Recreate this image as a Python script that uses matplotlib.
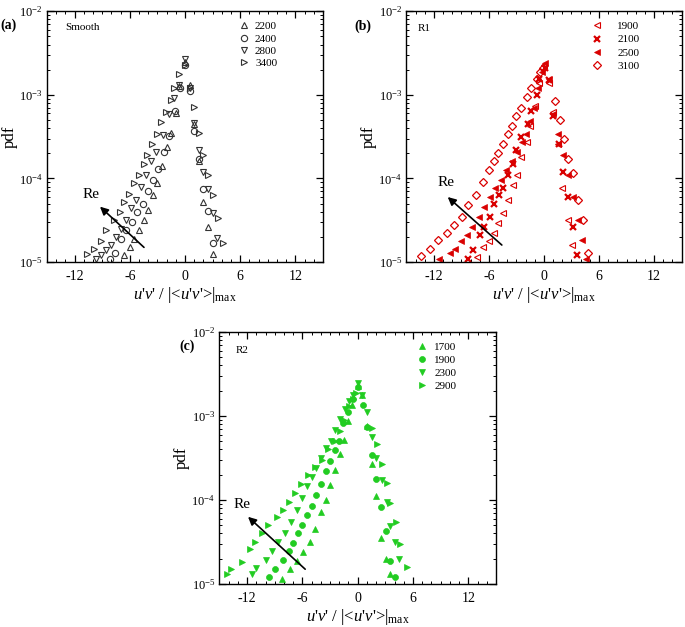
import matplotlib
matplotlib.use("Agg")
import matplotlib.pyplot as plt
from matplotlib.ticker import MultipleLocator, LogLocator, NullFormatter

plt.rcParams['font.family'] = ['Liberation Serif', 'DejaVu Serif']
plt.rcParams['mathtext.fontset'] = 'custom'
plt.rcParams['mathtext.rm'] = 'Liberation Serif'
plt.rcParams['mathtext.it'] = 'Liberation Serif:italic'
plt.rcParams['mathtext.bf'] = 'Liberation Serif:bold'
plt.rcParams['axes.unicode_minus'] = False

# ---------------- Panel (a): Smooth ----------------
a_2200_x = [-6.6, -6.0, -5.5, -5.0, -4.5, -4.0, -3.5, -3.0, -2.5, -2.0, -1.5, -1.0, -0.6, 0.0,
            0.5, 1.0, 1.5, 2.0, 2.5, 3.0]
a_2200_y = [1.2e-5, 1.5e-5, 1.9e-5, 2.4e-5, 3.2e-5, 4.2e-5, 6.3e-5, 8.9e-5, 1.4e-4, 2.4e-4, 3.5e-4, 6.0e-4, 1.26e-3, 2.5e-3,
            1.3e-3, 4.5e-4, 1.6e-4, 5.3e-5, 2.6e-5, 1.25e-5]
a_2400_x = [-8.2, -7.6, -7.0, -6.4, -5.8, -5.2, -4.6, -4.0, -3.5, -2.9, -2.3, -1.7, -1.1, -0.5, 0.0,
            0.5, 1.0, 1.5, 2.0, 2.5, 3.0]
a_2400_y = [1.1e-5, 1.3e-5, 1.9e-5, 2.4e-5, 3.0e-5, 4.0e-5, 5.0e-5, 7.0e-5, 9.5e-5, 1.3e-4, 2.1e-4, 3.2e-4, 6.5e-4, 1.2e-3, 2.3e-3,
            1.1e-3, 3.7e-4, 1.7e-4, 7.4e-5, 4.1e-5, 1.7e-5]
a_2800_x = [-9.7, -9.1, -8.6, -8.0, -7.5, -7.0, -6.4, -5.9, -5.3, -4.8, -4.2, -3.7, -3.1, -2.4, -1.7, -1.2, -0.6, 0.0,
            0.5, 1.0, 1.5, 2.0, 2.5, 3.0, 3.5]
a_2800_y = [1.1e-5, 1.2e-5, 1.4e-5, 1.6e-5, 2.0e-5, 2.5e-5, 3.2e-5, 4.4e-5, 5.5e-5, 7.9e-5, 1.1e-4, 1.6e-4, 2.1e-4, 3.3e-4, 5.9e-4, 9.3e-4, 1.3e-3, 2.7e-3,
            1.2e-3, 4.6e-4, 2.2e-4, 1.2e-4, 7.4e-5, 3.9e-5, 1.95e-5]
a_3400_x = [-10.6, -9.9, -9.1, -8.6, -7.7, -7.1, -6.6, -6.1, -5.5, -5.0, -4.5, -4.1, -3.6, -3.0, -2.6, -2.1, -1.5, -1.2, -0.6, 0.0,
            0.5, 1.0, 1.5, 2.0, 2.5, 3.0, 3.6, 4.1]
a_3400_y = [1.25e-5, 1.45e-5, 1.8e-5, 2.4e-5, 3.2e-5, 4.0e-5, 5.2e-5, 6.6e-5, 8.8e-5, 1.1e-4, 1.5e-4, 1.9e-4, 2.6e-4, 3.4e-4, 4.7e-4, 6.3e-4, 8.7e-4, 1.2e-3, 1.8e-3, 2.3e-3,
            1.2e-3, 7.1e-4, 3.5e-4, 1.9e-4, 1.1e-4, 6.3e-5, 3.4e-5, 1.7e-5]

# ---------------- Panel (b): R1 ----------------
b_1900_x = [-7.3, -6.6, -6.0, -5.5, -5.0, -4.5, -3.9, -3.4, -2.9, -2.5, -1.9, -1.5, -1.0, -0.5, 0.0,
            0.5, 1.0, 1.5, 2.0, 2.6, 3.1]
b_1900_y = [1.15e-5, 1.5e-5, 1.8e-5, 2.2e-5, 2.9e-5, 3.9e-5, 5.5e-5, 8.3e-5, 1.1e-4, 1.8e-4, 2.7e-4, 4.3e-4, 7.4e-4, 1.4e-3, 2.3e-3,
            1.4e-3, 6.3e-4, 2.6e-4, 7.7e-5, 3.2e-5, 1.6e-5]
b_2100_x = [-8.3, -7.7, -7.0, -6.5, -5.9, -5.4, -4.9, -4.5, -3.9, -3.4, -3.0, -2.5, -1.7, -1.4, -0.8, -0.5, 0.1,
            0.6, 1.0, 1.6, 2.1, 2.6, 3.2, 3.65]
b_2100_y = [1.1e-5, 1.4e-5, 2.1e-5, 2.6e-5, 3.5e-5, 5.0e-5, 6.4e-5, 7.6e-5, 1.1e-4, 1.5e-4, 2.2e-4, 3.1e-4, 4.5e-4, 6.5e-4, 1.0e-3, 1.55e-3, 2.1e-3,
            1.5e-3, 5.6e-4, 2.6e-4, 1.2e-4, 6.0e-5, 2.6e-5, 1.2e-5]
b_2500_x = [-11.5, -10.3, -9.7, -9.0, -8.4, -7.8, -7.1, -6.5, -5.9, -5.3, -4.7, -4.1, -3.5, -2.9, -2.4, -2.0, -1.5, -1.1, -0.6, -0.25, 0.15,
            0.5, 1.0, 1.55, 2.1, 2.6, 3.2, 3.7, 4.2, 4.6]
b_2500_y = [1.1e-5, 1.3e-5, 1.45e-5, 1.8e-5, 2.1e-5, 2.6e-5, 3.5e-5, 4.6e-5, 6.0e-5, 7.6e-5, 9.5e-5, 1.25e-4, 1.6e-4, 2.1e-4, 2.7e-4, 3.4e-4, 4.9e-4, 7.0e-4, 1.2e-3, 1.9e-3, 2.4e-3,
            1.55e-3, 5.9e-4, 3.4e-4, 1.9e-4, 1.1e-4, 6.0e-5, 3.2e-5, 1.85e-5, 1.1e-5]
b_3100_x = [-13.4, -12.45, -11.55, -10.6, -9.8, -8.9, -8.3, -7.4, -6.6, -6.0, -5.5, -5.0, -4.46, -3.9, -3.44, -3.0, -2.46, -1.9, -1.37, -0.8, -0.46, -0.1,
            1.18, 1.7, 2.16, 2.6, 3.2, 3.7, 4.27, 4.8]
b_3100_y = [1.18e-5, 1.45e-5, 1.85e-5, 2.2e-5, 2.8e-5, 3.5e-5, 4.8e-5, 6.3e-5, 9.0e-5, 1.25e-4, 1.6e-4, 2.0e-4, 2.6e-4, 3.4e-4, 4.3e-4, 5.6e-4, 6.9e-4, 9.5e-4, 1.2e-3, 1.55e-3, 1.9e-3, 2.1e-3,
            8.5e-4, 5.0e-4, 3.0e-4, 1.7e-4, 1.15e-4, 5.6e-5, 3.2e-5, 1.3e-5]

# ---------------- Panel (c): R2 ----------------
c_1700_x = [-8.2, -7.4, -6.6, -5.9, -5.2, -4.6, -4.0, -3.45, -3.0, -2.45, -1.9, -1.5, -1.0, -0.6, 0.0,
            0.45, 1.04, 1.5, 1.98, 2.5, 3.07, 3.5]
c_1700_y = [1.15e-5, 1.5e-5, 1.9e-5, 2.4e-5, 3.2e-5, 4.5e-5, 7.2e-5, 1.0e-4, 1.5e-4, 2.3e-4, 3.5e-4, 5.2e-4, 8.7e-4, 1.35e-3, 2.3e-3,
            1.8e-3, 7.5e-4, 2.7e-4, 1.1e-4, 3.5e-5, 2.0e-5, 1.3e-5]
c_1900_x = [-9.6, -9.0, -8.1, -7.45, -7.0, -6.5, -6.0, -5.5, -5.0, -4.5, -4.0, -3.47, -3.0, -2.46, -2.0, -1.56, -1.0, -0.5, 0.07,
            0.54, 1.04, 1.52, 1.98, 2.5, 3.07, 3.5, 4.05]
c_1900_y = [1.2e-5, 1.5e-5, 1.95e-5, 2.5e-5, 3.1e-5, 4.0e-5, 5.1e-5, 6.6e-5, 8.5e-5, 1.15e-4, 1.55e-4, 2.2e-4, 2.9e-4, 3.9e-4, 5.1e-4, 8.3e-4, 1.1e-3, 1.6e-3, 2.2e-3,
            1.35e-3, 7.4e-4, 3.4e-4, 1.8e-4, 8.3e-5, 4.3e-5, 1.9e-5, 1.2e-5]
c_2300_x = [-11.5, -11.0, -10.0, -9.3, -8.6, -7.9, -7.2, -6.55, -6.0, -5.5, -5.0, -4.5, -4.0, -3.47, -2.93, -2.46, -1.92, -1.4, -0.94, -0.48, 0.07,
            0.5, 1.0, 1.52, 1.98, 2.6, 3.15, 3.5, 4.05, 4.5]
c_2300_y = [1.3e-5, 1.55e-5, 1.95e-5, 2.5e-5, 3.2e-5, 4.0e-5, 5.5e-5, 7.5e-5, 1.05e-4, 1.45e-4, 1.9e-4, 2.4e-4, 3.2e-4, 4.1e-4, 5.1e-4, 6.8e-4, 9.3e-4, 1.2e-3, 1.5e-3, 1.8e-3, 2.5e-3,
            1.8e-3, 1.1e-3, 5.6e-4, 3.2e-4, 1.75e-4, 9.5e-5, 4.9e-5, 3.2e-5, 2.0e-5]
c_2900_x = [-14.2, -13.7, -12.6, -11.7, -11.1, -10.4, -9.7, -8.8, -8.1, -7.5, -6.8, -6.1, -5.35, -4.6, -3.9, -3.2, -2.46, -1.9, -1.5, -0.9, -0.54, -0.2,
            1.52, 2.13, 2.6, 3.15, 3.5, 4.16, 4.6, 5.3]
c_2900_y = [1.3e-5, 1.5e-5, 1.85e-5, 2.6e-5, 3.2e-5, 4.1e-5, 5.0e-5, 6.3e-5, 7.6e-5, 9.5e-5, 1.2e-4, 1.55e-4, 2.0e-4, 2.5e-4, 3.0e-4, 4.0e-4, 5.1e-4, 6.6e-4, 8.9e-4, 1.3e-3, 1.6e-3, 1.9e-3,
            7.2e-4, 4.7e-4, 2.7e-4, 1.6e-4, 9.3e-5, 5.5e-5, 3.0e-5, 1.6e-5]

x_ticks = [-12, -6, 0, 6, 12]
x_tick_labels = ['-12', '-6', '0', '6', '12']

GREY = '#333333'
RED = '#d90000'
GREEN = '#22cc22'

XLABEL = r"$u$'$v$' / |<$u$'$v$'>|$_{\mathrm{max}}$"

fig = plt.figure(figsize=(6.85, 6.27), dpi=100)


def style_axes(ax):
    ax.set_yscale('log')
    ax.set_xlim(-15, 15)
    ax.set_ylim(1e-5, 1e-2)
    ax.set_xticks(x_ticks)
    ax.set_xticklabels(x_tick_labels)
    ax.xaxis.set_minor_locator(MultipleLocator(1))
    ax.yaxis.set_major_locator(LogLocator(base=10, numticks=10))
    ax.yaxis.set_minor_locator(LogLocator(base=10, subs=range(2, 10), numticks=20))
    ax.yaxis.set_minor_formatter(NullFormatter())
    ax.tick_params(which='both', direction='in', top=True, right=True)
    ax.tick_params(which='major', length=5, width=0.9)
    ax.tick_params(axis='x', which='major', labelsize=10, pad=6)
    ax.tick_params(axis='y', which='major', labelsize=9, pad=3)
    ax.tick_params(which='minor', length=2.5, width=0.7)
    for s in ax.spines.values():
        s.set_linewidth(1.0)
    ax.set_ylabel('pdf', fontsize=12, labelpad=1)
    ax.set_xlabel(XLABEL, fontsize=12, labelpad=1)


def add_arrow(ax, tail, head, text_pos):
    ax.annotate('', xy=head, xytext=tail,
                arrowprops=dict(arrowstyle='-|>', color='black', lw=1.2,
                                mutation_scale=12, shrinkA=0, shrinkB=0))
    ax.text(text_pos[0], text_pos[1], 'Re', fontsize=11, ha='center', va='center')


# Panel (a)
axa = fig.add_axes([0.0686, 0.582, 0.403, 0.400])
style_axes(axa)
ms = 5
axa.plot(a_2200_x, a_2200_y, ls='none', marker='^', ms=ms, mfc='none', mec=GREY, mew=0.8, label='2200')
axa.plot(a_2400_x, a_2400_y, ls='none', marker='o', ms=4.5, mfc='none', mec=GREY, mew=0.8, label='2400')
axa.plot(a_2800_x, a_2800_y, ls='none', marker='v', ms=ms, mfc='none', mec=GREY, mew=0.8, label='2800')
axa.plot(a_3400_x, a_3400_y, ls='none', marker='>', ms=ms, mfc='none', mec=GREY, mew=0.8, label='3400')
axa.legend(loc='upper left', bbox_to_anchor=(0.665, 0.99), frameon=False, fontsize=8,
           handlelength=1.0, handletextpad=0.5, labelspacing=0.22, borderpad=0.2, numpoints=1)
axa.text(0.065, 0.937, 'Smooth', transform=axa.transAxes, fontsize=8, ha='left', va='center')
add_arrow(axa, (-4.46, 1.5e-5), (-9.24, 4.6e-5), (-10.25, 6.5e-5))
fig.text(0.0, 0.96, '(a)', fontsize=10, fontweight='bold', ha='left', va='center')

# Panel (b)
axb = fig.add_axes([0.5934, 0.582, 0.4015, 0.400])
style_axes(axb)
axb.plot(b_1900_x, b_1900_y, ls='none', marker='<', ms=ms, mfc='none', mec=RED, mew=0.8, label='1900')
axb.plot(b_2100_x, b_2100_y, ls='none', marker='x', ms=3.8, mec=RED, mew=1.6, label='2100')
axb.plot(b_2500_x, b_2500_y, ls='none', marker='<', ms=4, mfc=RED, mec=RED, mew=0.5, label='2500')
axb.plot(b_3100_x, b_3100_y, ls='none', marker='D', ms=4.2, mfc='none', mec=RED, mew=0.9, label='3100')
axb.legend(loc='upper left', bbox_to_anchor=(0.645, 0.99), frameon=False, fontsize=8,
           handlelength=1.0, handletextpad=1.3, labelspacing=0.3, borderpad=0.2, numpoints=1)
axb.text(0.04, 0.93, 'R1', transform=axb.transAxes, fontsize=8, ha='left', va='center')
add_arrow(axb, (-4.6, 1.6e-5), (-10.5, 6.0e-5), (-10.7, 8.9e-5))
fig.text(0.518, 0.958, '(b)', fontsize=10, fontweight='bold', ha='left', va='center')

# Panel (c)
axc = fig.add_axes([0.3204, 0.0686, 0.4036, 0.402])
style_axes(axc)
gms = 4.5
axc.plot(c_1700_x, c_1700_y, ls='none', marker='^', ms=gms, mfc=GREEN, mec=GREEN, mew=0.5, label='1700')
axc.plot(c_1900_x, c_1900_y, ls='none', marker='o', ms=4.3, mfc=GREEN, mec=GREEN, mew=0.5, label='1900')
axc.plot(c_2300_x, c_2300_y, ls='none', marker='v', ms=gms, mfc=GREEN, mec=GREEN, mew=0.5, label='2300')
axc.plot(c_2900_x, c_2900_y, ls='none', marker='>', ms=gms, mfc=GREEN, mec=GREEN, mew=0.5, label='2900',
         clip_on=False)
axc.legend(loc='upper left', bbox_to_anchor=(0.685, 0.99), frameon=False, fontsize=8,
           handlelength=1.0, handletextpad=0.6, labelspacing=0.28, borderpad=0.2, numpoints=1)
axc.text(0.057, 0.927, 'R2', transform=axc.transAxes, fontsize=8, ha='left', va='center')
add_arrow(axc, (-5.7, 1.5e-5), (-11.9, 6.3e-5), (-12.5, 8.9e-5))
fig.text(0.262, 0.447, '(c)', fontsize=10, fontweight='bold', ha='left', va='center')

fig.savefig('out.png', dpi=100)
